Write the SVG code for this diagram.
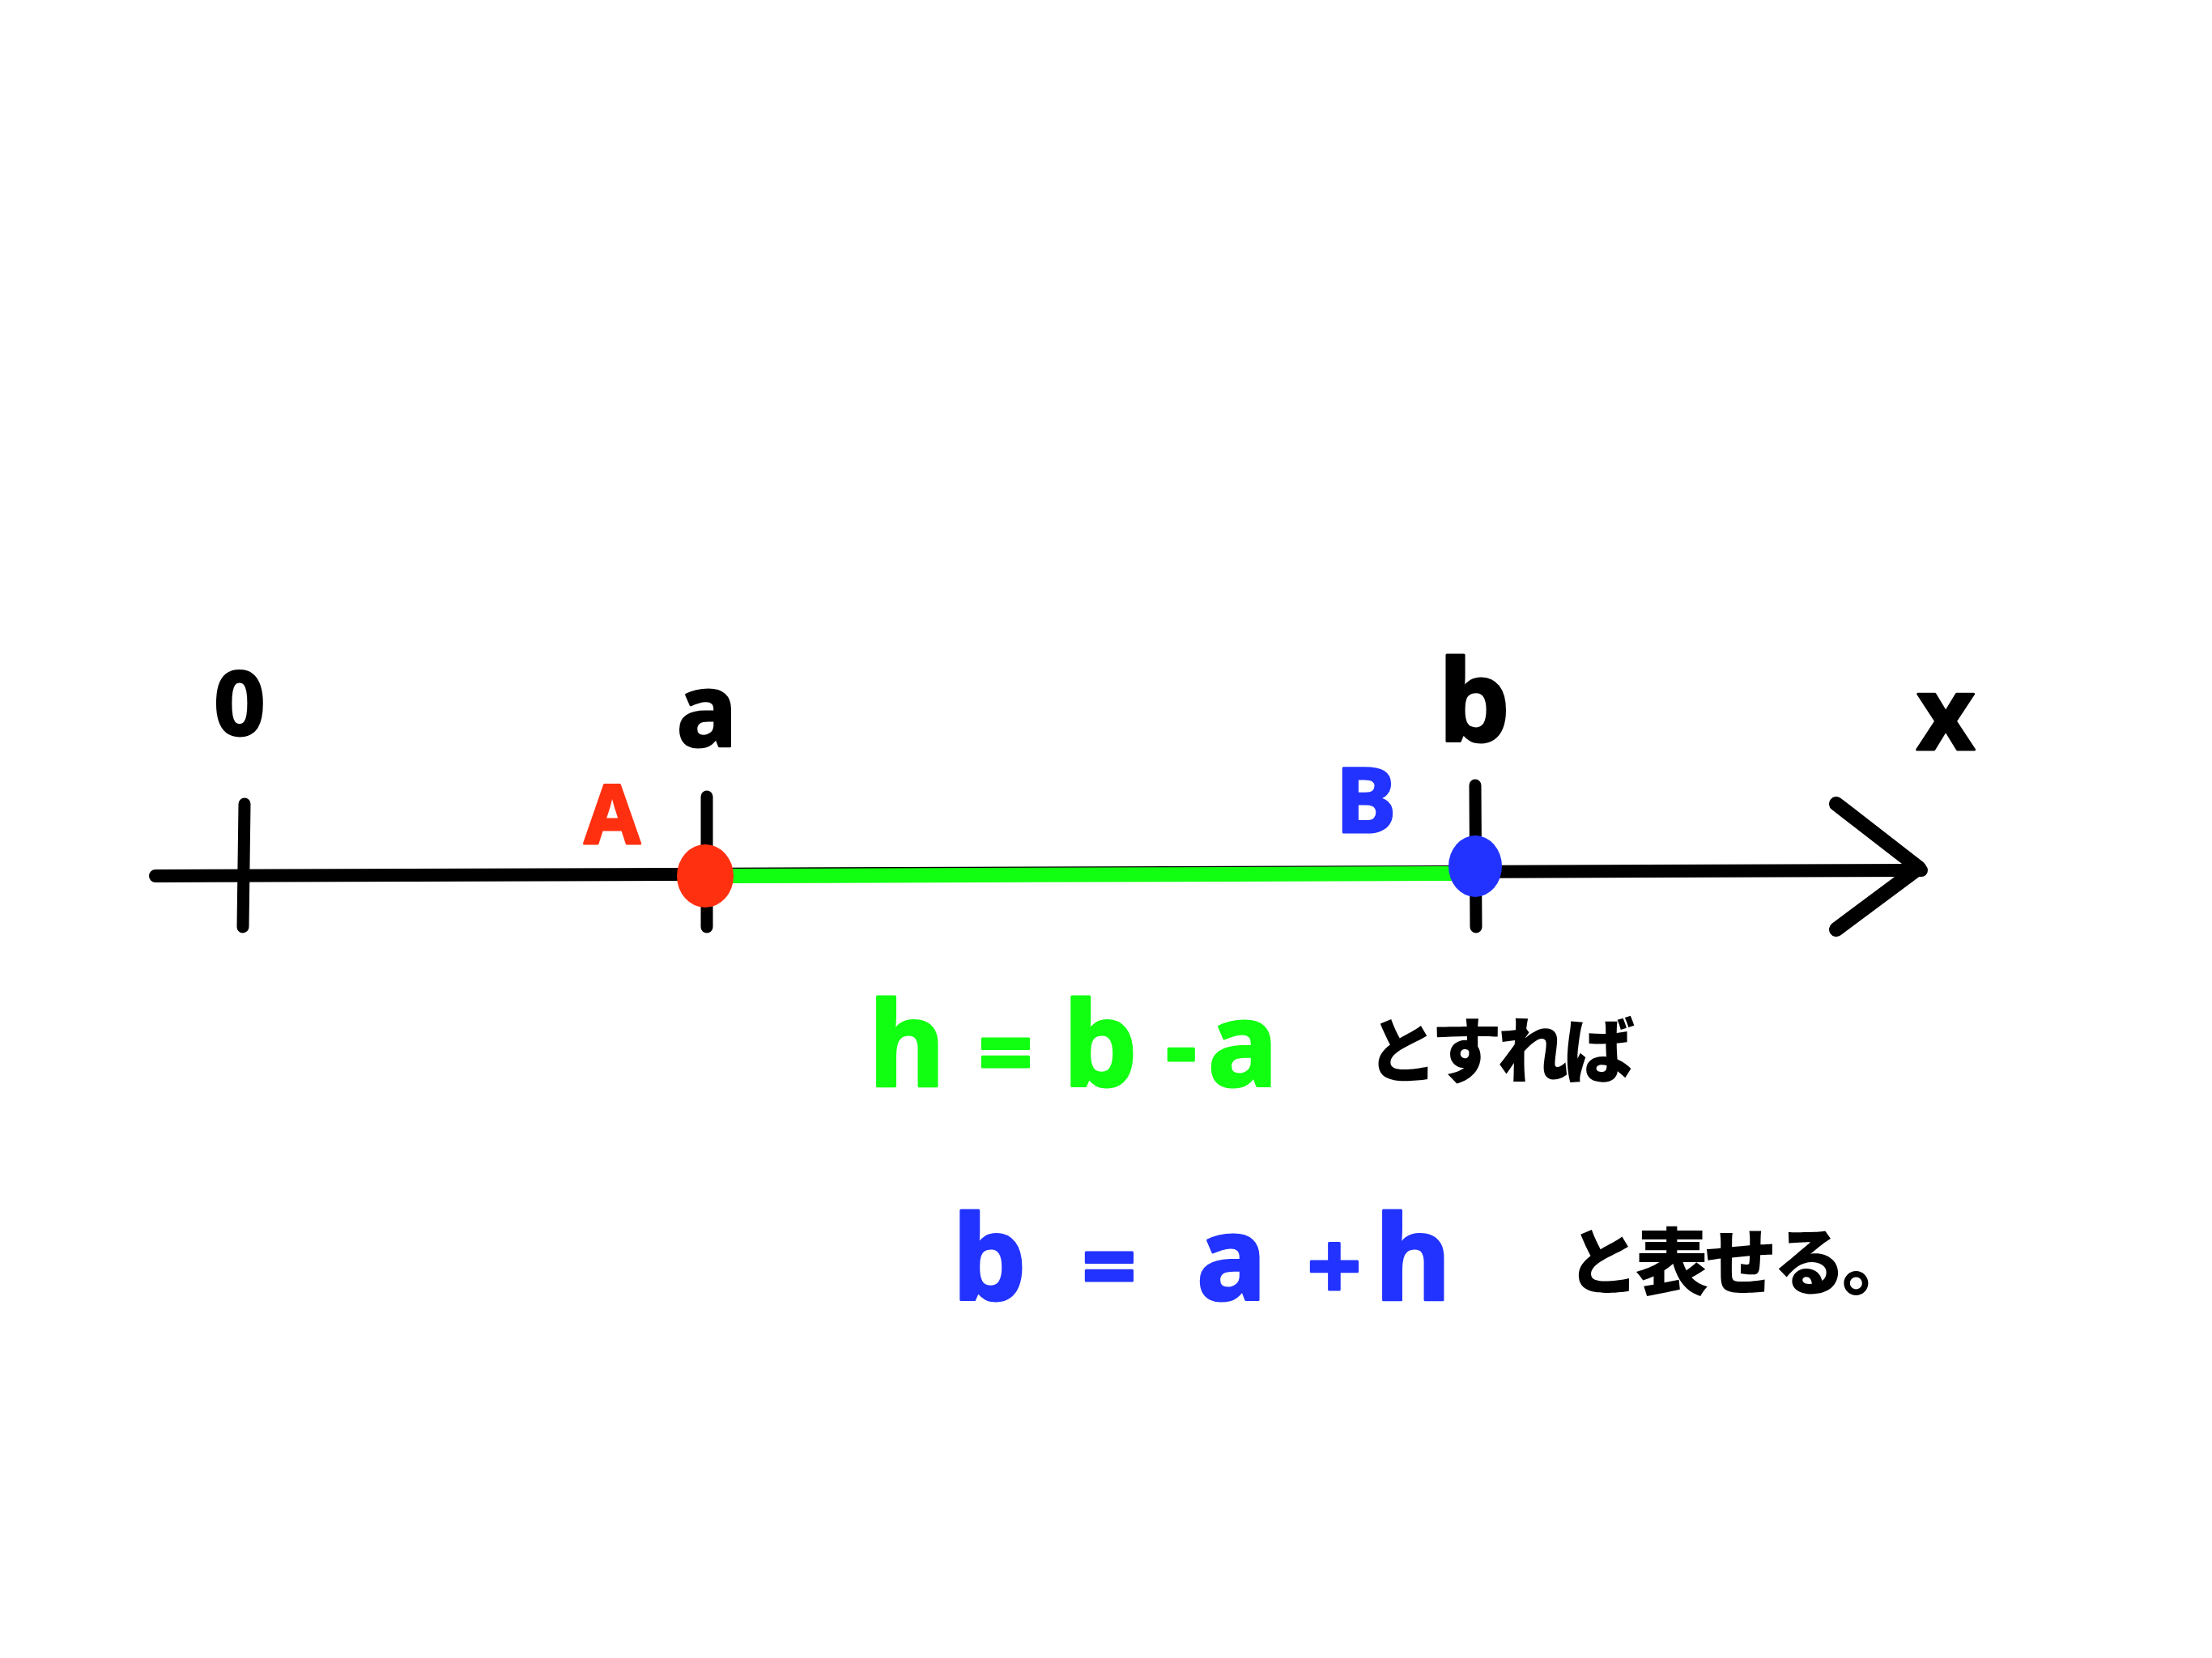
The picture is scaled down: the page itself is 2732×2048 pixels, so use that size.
<svg xmlns="http://www.w3.org/2000/svg" width="2732" height="2048" viewBox="0 0 2732 2048">
<style>
.ln{fill:none;stroke:#000;stroke-linecap:round;stroke-linejoin:round}
.lat{font-family:"Noto Sans","DejaVu Sans",sans-serif;font-weight:bold;text-anchor:middle;stroke-width:3;stroke-linejoin:round}
.jp{font-family:"Noto Sans CJK JP",sans-serif;font-weight:900;fill:#000}
.blk{fill:#000;stroke:#000}
.grn{fill:#11ff11;stroke:#11ff11}
.red{fill:#ff3010;stroke:#ff3010}
.blu{fill:#2233ff;stroke:#2233ff}
.eq{font-size:118px}
</style>
<rect width="2732" height="2048" fill="#fff"/>
<g id="connectors">
<path class="ln" d="M192 1082 L2373 1075" stroke-width="16"/>
<path class="ln" d="M2268 993 L2370 1072 L2268 1148" stroke-width="18"/>
<path class="ln" d="M906 1082 L1805 1079" style="stroke:#11ff11" stroke-width="18"/>
</g>
<g id="tick-0"><path class="ln" d="M302 993 L300 1145" stroke-width="15"/><text class="lat blk" x="296" y="908" font-size="110">0</text></g>
<g id="tick-a"><path class="ln" d="M873 984 L873 1145" stroke-width="15"/><text class="lat blk" x="873" y="922" font-size="125">a</text></g>
<g id="tick-b"><path class="ln" d="M1822 970 L1823 1145" stroke-width="15"/><text class="lat blk" x="1821" y="916" font-size="140">b</text></g>
<g id="label-x"><text class="lat blk" x="2403" y="926" font-size="125">x</text></g>
<g id="point-A"><ellipse cx="871" cy="1082" rx="35" ry="39" fill="#ff3010"/><text class="lat red" x="756" y="1042" font-size="100" stroke-width="2">A</text></g>
<g id="point-B"><ellipse cx="1822" cy="1070" rx="33" ry="38" fill="#2233ff"/><text class="lat blu" x="1687" y="1028" font-size="112" stroke-width="2">B</text></g>
<g id="eq1">
<text class="lat grn" y="1342" font-size="145"><tspan x="1120">h</tspan><tspan x="1242" class="eq">=</tspan><tspan x="1359">b</tspan><tspan x="1459" class="eq" dy="-8">-</tspan><tspan x="1535" dy="8">a</tspan></text>
<text class="jp" x="1688" y="1330" font-size="88" letter-spacing="-6">とすれば</text>
</g>
<g id="eq2">
<text class="lat blu" y="1606" font-size="145"><tspan x="1222">b</tspan><tspan x="1370" class="eq">=</tspan><tspan x="1521">a</tspan><tspan x="1648" class="eq">+</tspan><tspan x="1745">h</tspan></text>
<text class="jp" x="1935" y="1592" font-size="90" letter-spacing="-5">と表せる。</text>
</g>
</svg>
